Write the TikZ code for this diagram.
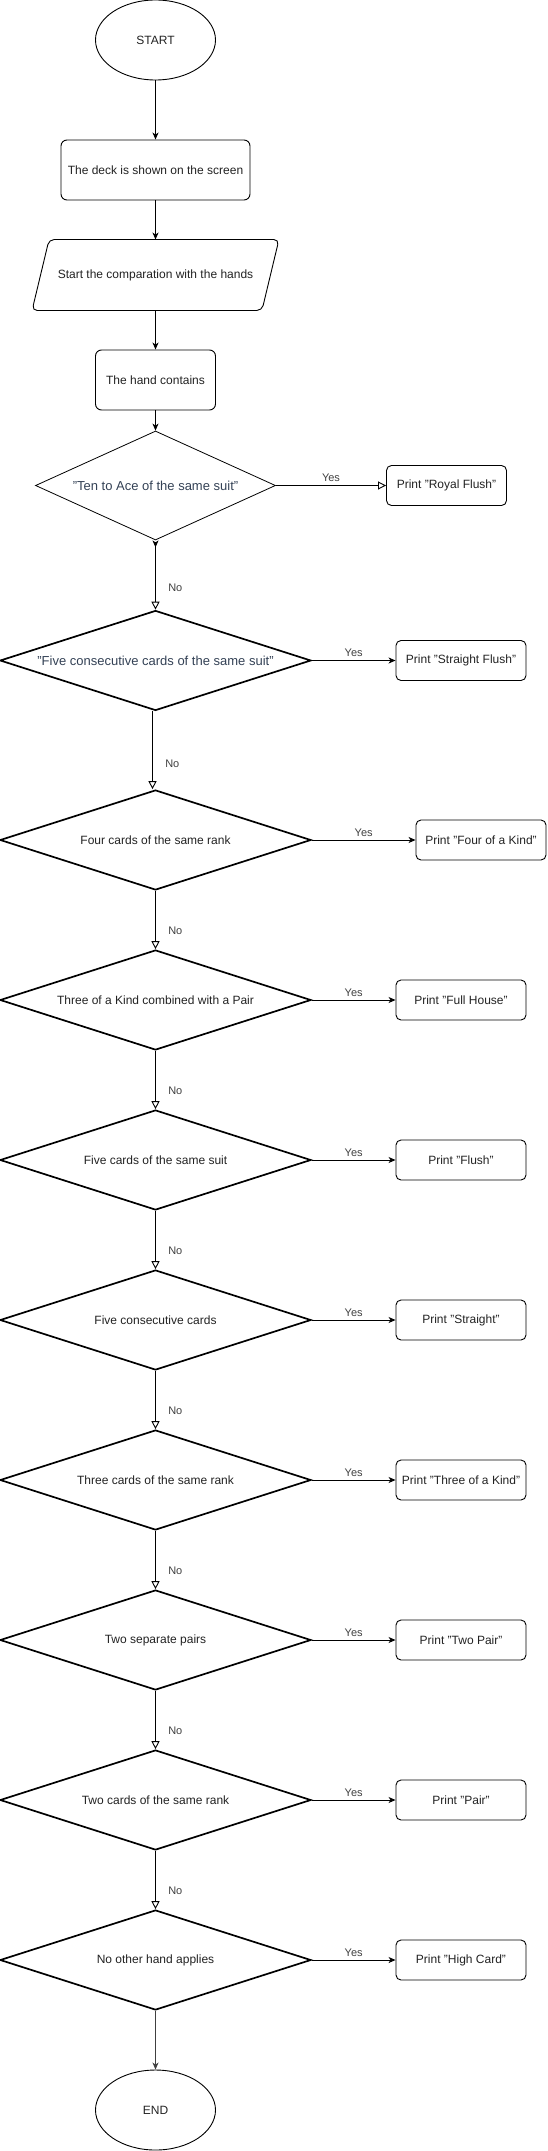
\documentclass[tikz,border=0pt]{standalone}
\usepackage{fontspec}
\setmainfont{Liberation Sans}
\usetikzlibrary{shapes.geometric,arrows.meta,positioning}
\definecolor{qtext}{RGB}{51,65,85}
\definecolor{lbl}{RGB}{64,64,64}
\definecolor{ink}{RGB}{34,34,34}

\begin{document}
\begin{tikzpicture}[x=1pt, y=-1pt, font=\fontsize{12}{14}\selectfont, text=ink, line width=0.9pt,
  term/.style={draw, ellipse, minimum width=120, minimum height=80, inner sep=0},
  proc/.style={draw, rounded corners=6, minimum width=189, minimum height=60, inner sep=0},
  printbox/.style={draw, rounded corners=5, minimum width=130, minimum height=40, inner sep=0},
  test/.style={draw, diamond, shape aspect=3.11, line width=1.7pt, minimum width=311, minimum height=100, inner sep=0},
  fill tip/.style={-{Stealth[length=7pt, width=6pt, inset=2pt]}},
  open tip/.style={-{Triangle[open, length=8pt, width=8pt]}},
  yes/.style={midway, above, text=lbl, font=\fontsize{11}{13}\selectfont},
  no/.style={pos=0.68, right=9pt, text=lbl, font=\fontsize{11}{13}\selectfont}]
  \useasboundingbox (0,0) rectangle (547,2151);

  % start of the flow
  \node[term] (start) at (155.5,40) {START};
  \node[proc] (deck) at (155.5,170) {The deck is shown on the screen};
  \node[minimum width=229, minimum height=70, inner sep=0] (cmp) at (155.5,275)
    {Start the comparation with the hands};
  \draw[rounded corners=5] ([xshift=8.5]cmp.north west) -- ([xshift=8.5]cmp.north east)
    -- ([xshift=-8.5]cmp.south east) -- ([xshift=-8.5]cmp.south west) -- cycle;
  \node[proc, minimum width=120] (hand) at (155.5,380) {The hand contains};
  \draw[fill tip] (start) -- (deck);
  \draw[fill tip] (deck) -- (cmp);
  \draw[fill tip] (cmp) -- (hand);

  % first two tests
  \node[test, line width=0.8pt, shape aspect=2.2, minimum width=240, minimum height=109, text=qtext,
    font=\fontsize{13}{15}\selectfont] (q1) at (155.5,485.5) {"Ten to Ace of the same suit"};
  \node[printbox, minimum width=120] (p1) at (446.5,485.5) {Print "Royal Flush"};
  \node[test, text=qtext, font=\fontsize{13}{15}\selectfont] (q2) at (155.5,660.5)
    {"Five consecutive cards of the same suit"};
  \node[printbox] (p2) at (461,660.5) {Print "Straight Flush"};
  \draw[fill tip] (hand) -- (q1);
  \draw[open tip] (q1) -- (p1) node[yes] {Yes};
  \draw[{Stealth[reversed, length=7pt, width=6pt, inset=2pt]}-{Triangle[open, length=8pt, width=8pt]}]
    (q1.south) -- (q2.north) node[no] {No};
  \draw[fill tip] (q2) -- (p2) node[yes] {Yes};

  % remaining hands
  \foreach \i/\y/\bx/\q/\p in {
      3/840/481/Four cards of the same rank/Four of a Kind,
      4/1000/461/Three of a Kind combined with a Pair/Full House,
      5/1160/461/Five cards of the same suit/Flush,
      6/1320/461/Five consecutive cards/Straight,
      7/1480/461/Three cards of the same rank/Three of a Kind,
      8/1640/461/Two separate pairs/Two Pair,
      9/1800/461/Two cards of the same rank/Pair,
      10/1960/461/No other hand applies/High Card} {
    \node[test] (q\i) at (155.5,\y) {\q};
    \node[printbox] (p\i) at (\bx,\y) {Print "\p"};
    \draw[fill tip] (q\i) -- (p\i) node[yes] {Yes};
  }
  \draw[open tip] ([xshift=-3pt]q2.south) -- ([xshift=-3pt]q3.north) node[no] {No};
  \foreach \i [evaluate=\i as \j using int(\i-1)] in {4,...,10}
    \draw[open tip] (q\j.south) -- (q\i.north) node[no] {No};

  % end of the flow
  \node[term] (end) at (155.5,2110) {END};
  \draw[fill tip, draw=lbl, line width=1.2pt] (q10) -- (end);
\end{tikzpicture}
\end{document}
